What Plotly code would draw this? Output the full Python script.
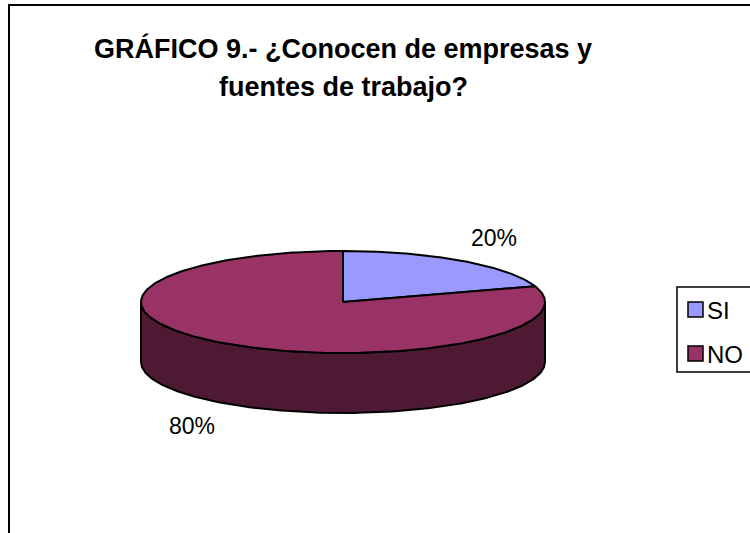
import numpy as np
import plotly.graph_objects as go

# ---- data ----
categories = ["SI", "NO"]
values = [20, 80]
top_colors = ["#9999FF", "#993366"]
side_colors = ["#4D4D80", "#4D1933"]
title_lines = ["GRÁFICO 9.- ¿Conocen de empresas y", "fuentes de trabajo?"]

# ---- geometry (pixel space) ----
W, H = 750, 533
cx, cy = 343, 302          # centre of top ellipse
a, b = 202, 51             # semi-axes
depth = 60                 # thickness of the pie
FONT = "Liberation Sans, Arial, sans-serif"


def pt(theta, dy=0.0):
    """theta in degrees, clockwise from top."""
    t = np.radians(theta)
    return cx + a * np.sin(t), cy - b * np.cos(t) + dy


fig = go.Figure()

total = float(sum(values))
bounds = []
start = 0.0
for v in values:
    end = start + 360.0 * v / total
    bounds.append((start, end))
    start = end

# side walls (front half: 90..270 deg)
for (s, e), col in zip(bounds, side_colors):
    lo, hi = max(s, 90.0), min(e, 270.0)
    if hi <= lo:
        continue
    th = np.linspace(lo, hi, 200)
    xt, yt = pt(th)
    xb, yb = pt(th[::-1], depth)
    xs = np.concatenate([xt, xb, xt[:1]])
    ys = np.concatenate([yt, yb, yt[:1]])
    fig.add_trace(go.Scatter(x=xs, y=ys, mode="lines", fill="toself",
                             fillcolor=col, line=dict(color="black", width=2),
                             hoverinfo="skip", showlegend=False))

# top faces
for (s, e), col, cat, v in zip(bounds, top_colors, categories, values):
    th = np.linspace(s, e, 300)
    xa, ya = pt(th)
    xs = np.concatenate([[cx], xa, [cx]])
    ys = np.concatenate([[cy], ya, [cy]])
    fig.add_trace(go.Scatter(x=xs, y=ys, mode="lines", fill="toself",
                             fillcolor=col, line=dict(color="black", width=2),
                             name=cat, hovertemplate=f"{cat}: {v}%<extra></extra>",
                             showlegend=False))

# percentage labels (outside, along mid angle)
for (s, e), v in zip(bounds, values):
    m = np.radians((s + e) / 2.0)
    lx = cx + 1.27 * a * np.sin(m)
    ly = cy - 1.56 * b * np.cos(m)
    if np.cos(m) < 0:
        ly += depth
    fig.add_annotation(x=lx, y=ly, text=f"{v}%", showarrow=False,
                       xanchor="center", yanchor="middle",
                       font=dict(family=FONT, size=23, color="black"))

# title
for i, line in enumerate(title_lines):
    fig.add_annotation(x=cx, y=48 + 39 * i, text=f"<b>{line}</b>", showarrow=False,
                       xanchor="center", yanchor="middle",
                       font=dict(family=FONT, size=27, color="black"))

# chart frame
fig.add_shape(type="rect", x0=9, y0=5, x1=W + 20, y1=H + 20,
              line=dict(color="black", width=2), fillcolor="rgba(0,0,0,0)", layer="above")

# legend (manual)
lx0, ly0, lx1, ly1 = 677, 287, 775, 372
fig.add_shape(type="rect", x0=lx0, y0=ly0, x1=lx1, y1=ly1,
              line=dict(color="black", width=1.5), fillcolor="white", layer="above")
for i, (cat, col) in enumerate(zip(categories, top_colors)):
    yc = 309.5 + 44 * i
    fig.add_shape(type="rect", x0=688, y0=yc - 7.5, x1=703, y1=yc + 7.5,
                  line=dict(color="black", width=1.5), fillcolor=col, layer="above")
    fig.add_annotation(x=705, y=yc + 1, text=cat, showarrow=False,
                       xanchor="left", yanchor="middle",
                       font=dict(family=FONT, size=24, color="black"))

fig.update_layout(
    width=W, height=H,
    margin=dict(l=0, r=0, t=0, b=0),
    paper_bgcolor="white", plot_bgcolor="white",
    showlegend=False,
    xaxis=dict(range=[0, W], visible=False, fixedrange=True),
    yaxis=dict(range=[H, 0], visible=False, fixedrange=True),
)

fig.write_html(
    "out.html",
    config={"displayModeBar": False},
    post_script="document.documentElement.style.margin='0';"
                "document.body.style.margin='0';"
                "document.body.style.overflow='hidden';",
)
